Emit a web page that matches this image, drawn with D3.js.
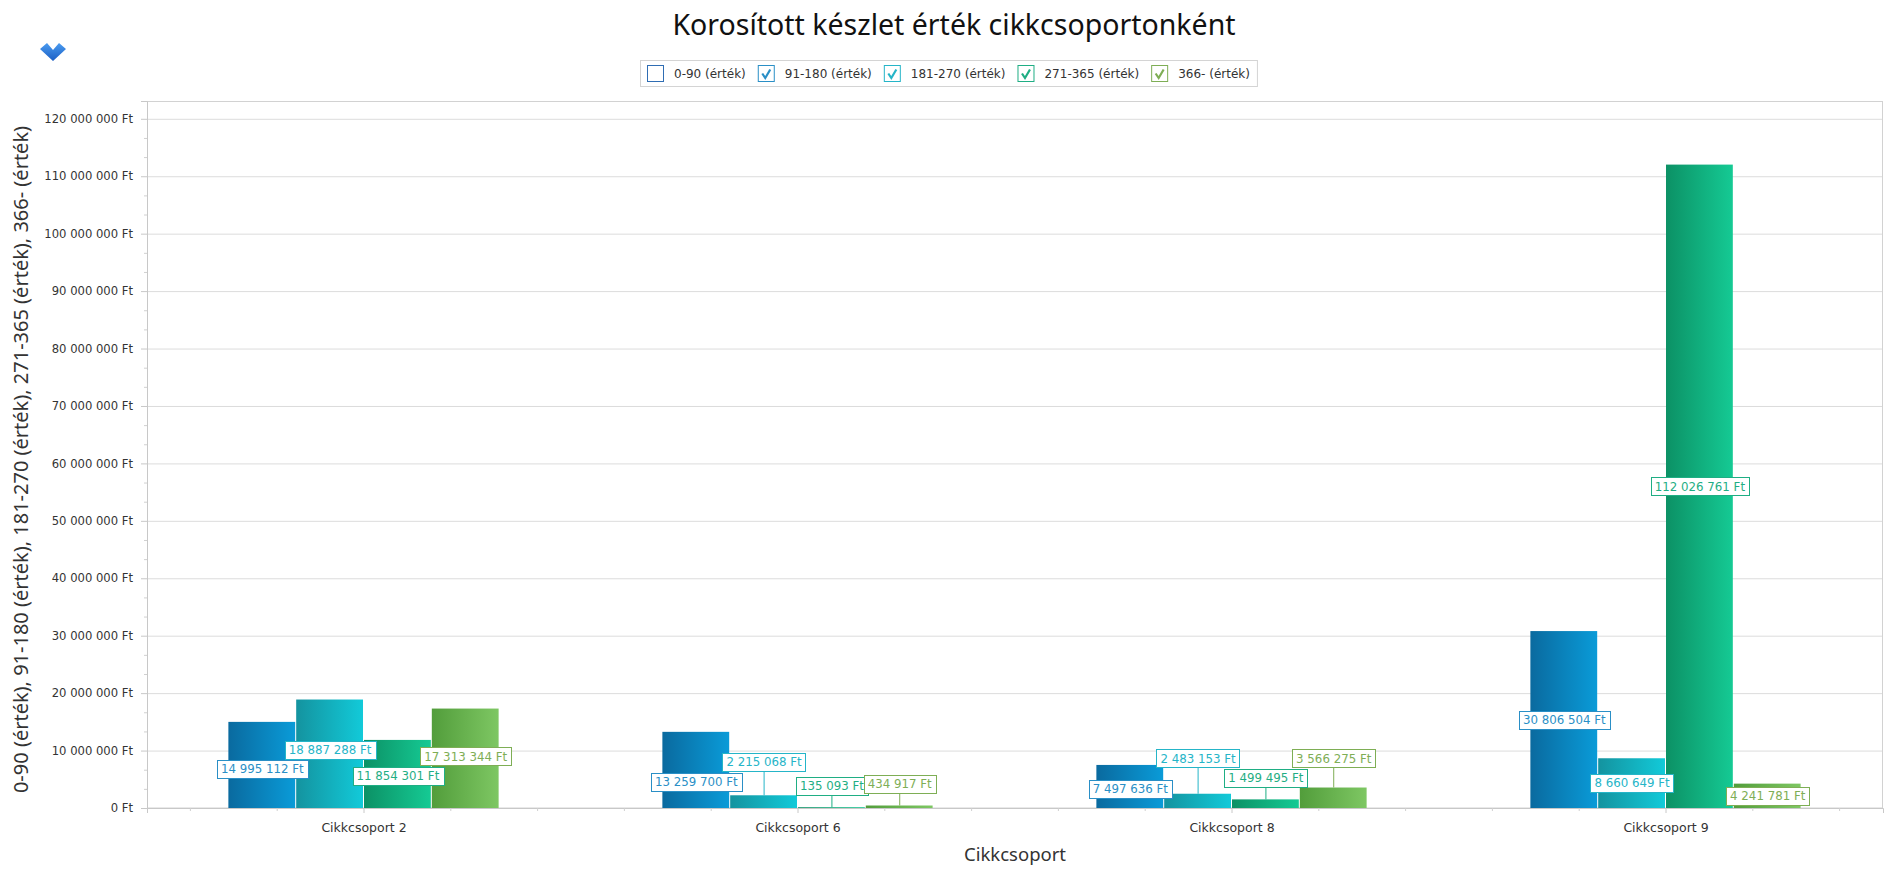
<!DOCTYPE html>
<html>
<head>
<meta charset="utf-8">
<script src="https://cdn.jsdelivr.net/npm/d3@7"></script>
<style>
  body { margin: 0; background: #fff; }
  svg { display: block; }
  .tick text { font-family: Tahoma, "DejaVu Sans", sans-serif; fill: #333; }
  .grid line { stroke: #dcdcdc; }
  .grid path { display: none; }
</style>
</head>
<body>
<svg id="chart" width="1896" height="875"></svg>
<script>
// data
const categories = ["Cikkcsoport 2", "Cikkcsoport 6", "Cikkcsoport 8", "Cikkcsoport 9"];
const seriesNames = ["0-90 (érték)", "91-180 (érték)", "181-270 (érték)", "271-365 (érték)", "366- (érték)"];
const seriesChecked = [false, true, true, true, true];
const v91_180 = [14995112, 13259700, 7497636, 30806504];
const v181_270 = [18887288, 2215068, 2483153, 8660649];
const v271_365 = [11854301, 135093, 1499495, 112026761];
const v366 = [17313344, 434917, 3566275, 4241781];
const yMax = 123100000;

const title = "Korosított készlet érték cikkcsoportonként";
const xTitle = "Cikkcsoport";
const yTitle = seriesNames.join(", ");

// colors: [legend/label color, gradient start, gradient end]
const colors = [
    ["#2f6db3", "#2f6db3", "#2f6db3"],
    ["#2a8fc6", "#0a6a9f", "#0a9bd8"],
    ["#25b5c8", "#14939f", "#12cad9"],
    ["#1fae84", "#0c9165", "#15ca94"],
    ["#7eae55", "#529d3b", "#7ec763"]
];

const visible = [
    {s: 1, values: v91_180},
    {s: 2, values: v181_270},
    {s: 3, values: v271_365},
    {s: 4, values: v366}
];

const locale = d3.formatLocale({decimal: ",", thousands: " ", grouping: [3], currency: ["", " Ft"]});
const fmt = v => locale.format(",")(v) + " Ft";

const margin = {left: 147, right: 13, top: 101, bottom: 67};
const W = 1896, Hh = 875;
const plotW = W - margin.left - margin.right;
const plotB = Hh - margin.bottom;
const sans = "'Noto Sans', 'Open Sans', sans-serif";
const small = "Tahoma, 'DejaVu Sans', sans-serif";

let svg = d3.select("#chart");
let defs = svg.append("defs");
colors.forEach((c, i) => {
    let g = defs.append("linearGradient").attr("id", "grad" + i)
        .attr("x1", "0%").attr("x2", "100%").attr("y1", "0%").attr("y2", "0%");
    g.append("stop").attr("offset", "0%").attr("stop-color", c[1]);
    g.append("stop").attr("offset", "100%").attr("stop-color", c[2]);
});
let chev = defs.append("linearGradient").attr("id", "chev").attr("x1", "0%").attr("x2", "0%").attr("y1", "0%").attr("y2", "100%");
chev.append("stop").attr("offset", "0%").attr("stop-color", "#4a9bf0");
chev.append("stop").attr("offset", "100%").attr("stop-color", "#1c5fc4");

let x0 = d3.scaleBand().domain(categories).range([margin.left, margin.left + plotW]);
let bw = x0.bandwidth();
let x1 = d3.scaleBand().domain(visible.map(d => d.s)).range([bw * 0.1875, bw * 0.8125]);
let y = d3.scaleLinear().domain([0, yMax]).range([plotB, margin.top]);
let yTicks = y.ticks(12);
let yMinor = d3.range(0, 120000001, 10000000 / 3).filter((d, i) => i % 3 != 0);

// chevron icon
svg.append("path")
    .attr("d", "M40,49 L47,43 L53,50 L59,43 L66,49 L53,61 Z")
    .attr("fill", "url(#chev)");

// title
svg.append("text")
    .attr("x", W / 2 + 6).attr("y", 35)
    .attr("text-anchor", "middle")
    .style("font-family", sans)
    .style("font-size", "28.5px").style("fill", "#111")
    .text(title);

// legend
let legend = svg.append("g");
let lx = 647;
seriesNames.forEach((name, i) => {
    let g = legend.append("g");
    g.append("rect").attr("x", lx + 0.5).attr("y", 65.5).attr("width", 16).attr("height", 16)
        .attr("fill", "#fff").attr("stroke", colors[i][0]);
    if (seriesChecked[i]) {
        g.append("path").attr("d", `M${lx + 4.5},${73.5} L${lx + 7.5},${78} L${lx + 12.5},${69.5}`)
            .attr("fill", "none").attr("stroke", colors[i][0]).attr("stroke-width", 2.2);
    }
    let t = g.append("text").attr("x", lx + 27).attr("y", 78)
        .style("font-family", small).style("font-size", "12px").style("fill", "#333")
        .text(name);
    lx = lx + 27 + t.node().getComputedTextLength() + 12;
});
legend.insert("rect", ":first-child")
    .attr("x", 640.5).attr("y", 60.5).attr("width", lx - 640 - 5).attr("height", 26)
    .attr("fill", "#fff").attr("stroke", "#d4d4d4");

// grid
svg.append("g").attr("class", "grid")
    .attr("transform", `translate(${margin.left},0)`)
    .call(d3.axisLeft(y).tickValues(yTicks.filter(d => d > 0)).tickSize(-plotW).tickFormat(""));

// plot border
svg.append("rect")
    .attr("x", margin.left + 0.5).attr("y", margin.top + 0.5)
    .attr("width", plotW - 1).attr("height", plotB - margin.top - 0.5)
    .attr("fill", "none").attr("stroke", "#d2d2d2");

// y axis
let yAxis = svg.append("g").attr("transform", `translate(${margin.left},0)`)
    .call(d3.axisLeft(y).tickValues(yTicks).tickSize(6).tickPadding(8).tickFormat(fmt));
yAxis.select(".domain").attr("stroke", "#c8c8c8");
yAxis.selectAll(".tick line").attr("stroke", "#c8c8c8");
yAxis.selectAll(".tick text").style("font-size", "11.6px");
let yMinorAxis = svg.append("g").attr("transform", `translate(${margin.left},0)`)
    .call(d3.axisLeft(y).tickValues(yMinor).tickSize(3).tickFormat(""));
yMinorAxis.select(".domain").remove();
yMinorAxis.selectAll(".tick line").attr("stroke", "#d0d0d0");

// x axis
let xAxis = svg.append("g").attr("transform", `translate(0,${plotB})`)
    .call(d3.axisBottom(x0).tickSize(5).tickPadding(10));
xAxis.select(".domain").attr("stroke", "#c8c8c8");
xAxis.selectAll(".tick line").attr("stroke", "#c8c8c8");
xAxis.selectAll(".tick text").style("font-size", "12.5px");
let xMinor = [];
categories.forEach(c => [-2, -1, 1, 2].forEach(k => xMinor.push(x0(c) + bw / 2 + k * bw / 5)));
svg.append("g").selectAll("line").data(xMinor).enter().append("line")
    .attr("x1", d => d).attr("x2", d => d).attr("y1", plotB).attr("y2", plotB + 3)
    .attr("stroke", "#d0d0d0");

// axis titles
svg.append("text")
    .attr("transform", `translate(21,${(margin.top + plotB) / 2 + 5}) rotate(-90)`)
    .attr("text-anchor", "middle").attr("dy", "0.35em")
    .style("font-family", sans).style("font-size", "20px").style("fill", "#333")
    .text(yTitle);
svg.append("text")
    .attr("x", margin.left + plotW / 2).attr("y", 861)
    .attr("text-anchor", "middle")
    .style("font-family", sans).style("font-size", "18.5px").style("fill", "#333")
    .text(xTitle);

// bars
let bars = svg.append("g");
visible.forEach(ser => {
    bars.selectAll(null).data(ser.values).enter().append("rect")
        .attr("x", (d, i) => x0(categories[i]) + x1(ser.s))
        .attr("y", d => y(d))
        .attr("width", x1.bandwidth() - 1)
        .attr("height", d => plotB - y(d))
        .attr("fill", `url(#grad${ser.s})`);
});

// labels with simple overlap resolution
const LH = 18;
let labelLayer = svg.append("g");
categories.forEach((c, ci) => {
    let labs = visible.map(ser => {
        let v = ser.values[ci];
        let top = y(v);
        let cx = x0(c) + x1(ser.s) + x1.bandwidth() / 2;
        let t = labelLayer.append("text").text(fmt(v))
            .style("font-family", small).style("font-size", "11.8px");
        let tw = t.node().getComputedTextLength();
        t.remove();
        let inside = (plotB - top) >= LH + 4;
        let cy = inside ? (top + plotB) / 2 : top - 12.5 - LH / 2;
        return {s: ser.s, v, top, cx, w: tw + 8, cy, inside, up: false};
    });
    for (let i = 1; i < labs.length; i++) {
        let a = labs[i - 1], b = labs[i];
        let ov = Math.min(a.cx + a.w / 2, b.cx + b.w / 2) - Math.max(a.cx - a.w / 2, b.cx - b.w / 2);
        if (ov > 6 && Math.abs(a.cy - b.cy) < LH + 1.5) {
            let upper = a.up ? a : b, lower = a.up ? b : a;
            let deficit = LH + 1.5 - (lower.cy - upper.cy);
            let room = lower.inside ? Math.max(0, plotB - 13 - lower.cy) : 0;
            lower.cy += Math.min(deficit / 2, room);
            upper.cy = Math.min(upper.cy, lower.cy - LH - 1.5);
            upper.up = true;
        }
    }
    labs.forEach(l => {
        let col = colors[l.s][0];
        let g = labelLayer.append("g");
        if (l.cy + LH / 2 < l.top) {
            g.append("line").attr("x1", l.cx).attr("x2", l.cx)
                .attr("y1", l.cy + LH / 2).attr("y2", l.top).attr("stroke", col);
        }
        g.append("rect")
            .attr("x", Math.round(l.cx - l.w / 2) + 0.5).attr("y", Math.round(l.cy - LH / 2) + 0.5)
            .attr("width", Math.round(l.w)).attr("height", LH)
            .attr("fill", "#fff").attr("stroke", col);
        g.append("text").attr("x", l.cx).attr("y", l.cy).attr("dy", "0.36em")
            .attr("text-anchor", "middle")
            .style("font-family", small).style("font-size", "11.8px")
            .style("fill", col)
            .text(fmt(l.v));
    });
});
</script>
</body>
</html>
